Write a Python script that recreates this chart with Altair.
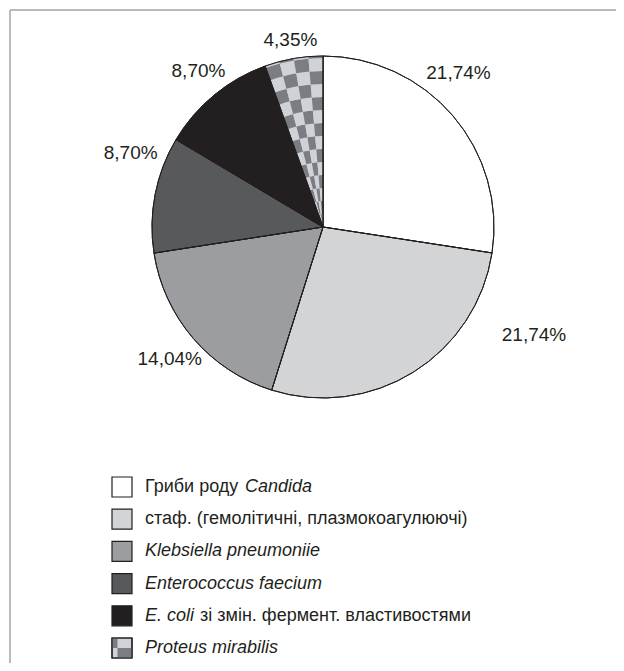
import math
import altair as alt
import pandas as pd

# ---------------- data ----------------
NAMES = ["candida", "staph", "klebs", "entero", "ecoli", "proteus"]
VALUES = [21.74, 21.74, 14.04, 8.70, 8.70, 4.35]
PCT_LABELS = ["21,74%", "21,74%", "14,04%", "8,70%", "8,70%", "4,35%"]
LEG_PREFIX = ["Гриби роду", "стаф. (гемолітичні, плазмокоагулюючі)", "Klebsiella pneumoniie",
              "Enterococcus faecium", "E. coli", "Proteus mirabilis"]
LEG_PREFIX_ITALIC = [False, False, True, True, True, True]
LEG_SUFFIX = ["Candida", "", "", "", "зі змін. фермент. властивостями", ""]

# ---------------- style / layout ----------------
COLORS = ["#ffffff", "#d3d4d6", "#9c9da0", "#58595b", "#231f20", "#cfd2d6"]
CHECKER = ["#cfd2d6", "#7b7d83"]
INK = "#231f20"
FRAME = "#a3a3a3"
FONT = "Liberation Sans"
W, H = 596, 653
CX, CY, R = 313, 217, 171
LABEL_SHIFT_DEG = [-8, -31, 0, 10, 1, 0]
LABEL_RADIUS = [205, 237, 202, 206, 200, 190]
BAND = 13
N_COLS = 4
LEG_X_SYM, LEG_X_TXT = 112, 135
SUFFIX_DX = [100, 0, 0, 0, 55, 0]

total = sum(VALUES)
theta_scale = alt.Scale(domain=[0, total], range=[0, 2 * math.pi])
color_scale = alt.Scale(domain=NAMES, range=COLORS)

pie_df = pd.DataFrame({"name": NAMES, "value": VALUES, "order": list(range(len(NAMES)))})

# label positions (via theta scale)
cum = 0.0
lt = []
for v, s in zip(VALUES, LABEL_SHIFT_DEG):
    lt.append(cum + v / 2 + s / 360.0 * total)
    cum += v
lab_df = pd.DataFrame({"label": PCT_LABELS, "lt": lt, "lr": LABEL_RADIUS})

# checkerboard tiles for the last slice
start = sum(VALUES[:-1])
w = VALUES[-1] / N_COLS
rows = []
nb = math.ceil(R / BAND)
for j in range(nb):
    for k in range(N_COLS):
        rows.append({"t0": start + k * w, "t1": start + (k + 1) * w,
                     "r0": j * BAND, "r1": min((j + 1) * BAND, R),
                     "tone": "dark" if (j + k) % 2 == 0 else "light"})
tile_df = pd.DataFrame(rows)

leg_df = pd.DataFrame({"row": list(range(6)), "name": NAMES, "pre": LEG_PREFIX,
                       "pre_it": LEG_PREFIX_ITALIC, "suf": LEG_SUFFIX})

cx = alt.value(CX)
cy = alt.value(CY)

one = pd.DataFrame({"a": [0]})
frame_left = alt.Chart(one).mark_rule(color=FRAME, strokeWidth=1.5).encode(
    x=alt.value(0), y=alt.value(0), y2=alt.value(H))
frame_top = alt.Chart(one).mark_rule(color=FRAME, strokeWidth=1.5).encode(
    x=alt.value(0), x2=alt.value(W + 20), y=alt.value(0))

arcs = alt.Chart(pie_df).mark_arc(outerRadius=R, stroke=INK, strokeWidth=1).encode(
    theta=alt.Theta("value:Q", stack=True, scale=theta_scale),
    order=alt.Order("order:Q"),
    fill=alt.Fill("name:N", scale=color_scale, legend=None),
    x=cx, y=cy,
)

tiles = alt.Chart(tile_df).mark_arc(strokeWidth=0).encode(
    theta=alt.Theta("t0:Q", scale=theta_scale, stack=None),
    theta2="t1:Q",
    radius=alt.Radius("r1:Q", scale=None),
    radius2="r0:Q",
    fill=alt.Fill("tone:N", scale=alt.Scale(domain=["light", "dark"], range=CHECKER), legend=None),
    x=cx, y=cy,
)

outline = alt.Chart(pie_df).mark_arc(outerRadius=R, stroke=INK, strokeWidth=1, fillOpacity=0).encode(
    theta=alt.Theta("value:Q", stack=True, scale=theta_scale),
    order=alt.Order("order:Q"),
    x=cx, y=cy,
)

labels = alt.Chart(lab_df).mark_text(font=FONT, fontSize=19, color=INK).encode(
    theta=alt.Theta("lt:Q", scale=theta_scale, stack=None),
    radius=alt.Radius("lr:Q", scale=None),
    text="label:N",
    x=cx, y=cy,
)

ysc = alt.Y("row:O", scale=alt.Scale(type="point", range=[477, 638], padding=0), axis=None)

leg_sym = alt.Chart(leg_df).mark_point(shape="square", filled=True, size=400, stroke=INK,
                                       strokeWidth=1.2, opacity=1).encode(
    fill=alt.Fill("name:N", scale=color_scale, legend=None),
    x=alt.value(LEG_X_SYM), y=ysc,
)
leg_pat = alt.Chart(leg_df).transform_filter("datum.row == 5").mark_point(
    shape="M-1,-1H-0.45V0H-1Z M-0.45,0H1V1H-0.45Z", filled=True, size=400,
    color=CHECKER[1], strokeWidth=0, opacity=1).encode(x=alt.value(LEG_X_SYM), y=ysc)
leg_out = alt.Chart(leg_df).transform_filter("datum.row == 5").mark_point(
    shape="square", filled=False, size=400, stroke=INK, strokeWidth=1.2, opacity=1).encode(
    x=alt.value(LEG_X_SYM), y=ysc)

txt_kw = dict(font=FONT, fontSize=18, color=INK, align="left", baseline="middle")
leg_pre_n = alt.Chart(leg_df).transform_filter("!datum.pre_it").mark_text(**txt_kw).encode(
    text="pre:N", x=alt.value(LEG_X_TXT), y=ysc)
leg_pre_i = alt.Chart(leg_df).transform_filter("datum.pre_it").mark_text(fontStyle="italic", **txt_kw).encode(
    text="pre:N", x=alt.value(LEG_X_TXT), y=ysc)
leg_suf_i = alt.Chart(leg_df).transform_filter("datum.row == 0").mark_text(
    fontStyle="italic", dx=SUFFIX_DX[0], **txt_kw).encode(text="suf:N", x=alt.value(LEG_X_TXT), y=ysc)
leg_suf_n = alt.Chart(leg_df).transform_filter("datum.row == 4").mark_text(
    dx=SUFFIX_DX[4], **txt_kw).encode(text="suf:N", x=alt.value(LEG_X_TXT), y=ysc)

chart = alt.layer(
    frame_left, frame_top,
    arcs, tiles, outline, labels, leg_sym, leg_pat, leg_out,
    leg_pre_n, leg_pre_i, leg_suf_i, leg_suf_n,
).resolve_scale(fill="independent").properties(
    width=W, height=H,
    padding={"left": 2, "top": 2, "right": 10, "bottom": 0},
    autosize=alt.AutoSizeParams(type="none"),
    background="white",
).configure_view(strokeWidth=0, stroke="transparent")

chart.save("out.html", embed_options={"renderer": "svg", "actions": False})
